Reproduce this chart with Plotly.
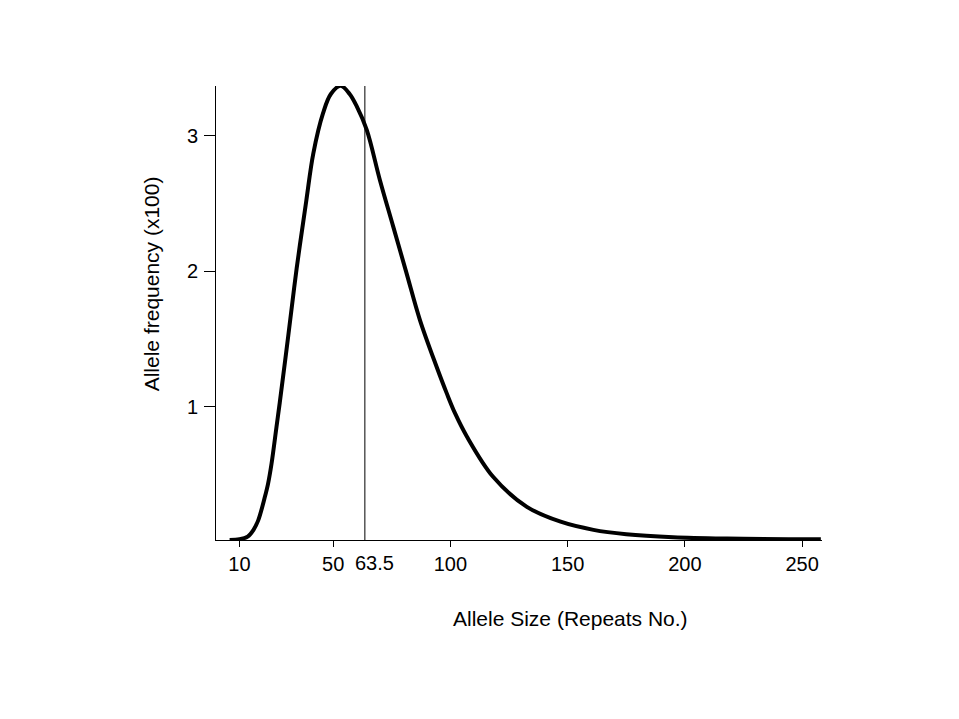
import plotly.graph_objects as go

# Data
allele_size = [5.8, 10, 13.5, 16, 18, 20.8, 22.2, 23.7, 25.8, 27.2, 30.8, 34.4, 38.5,
               41.5, 45.7, 49, 53.2, 57, 60, 64.3, 69.9, 75.6, 81.3, 87, 94.1, 98.4,
               102, 107, 118.3, 132.6, 147, 161, 175, 195, 218, 258]
allele_freq = [0.015, 0.02, 0.04, 0.09, 0.16, 0.33, 0.43, 0.58, 0.85, 1.03, 1.52, 2.02,
               2.52, 2.87, 3.17, 3.31, 3.37, 3.31, 3.22, 3.045, 2.675, 2.33, 1.985, 1.64,
               1.295, 1.1, 0.95, 0.78, 0.48, 0.26, 0.15, 0.09, 0.058, 0.036, 0.026, 0.02]
x_ticks = [10, 50, 100, 150, 200, 250]
y_ticks = [1, 2, 3]
marker_size = 63.5
marker_label = "63.5"

FONT = "Liberation Sans, Arial, sans-serif"
TICK_FS = 20
TITLE_FS = 21

fig = go.Figure()
fig.add_trace(go.Scatter(
    x=allele_size, y=allele_freq, mode="lines",
    line=dict(color="black", width=4, shape="spline", smoothing=1.0),
    showlegend=False, hoverinfo="skip"))

fig.add_shape(type="line", xref="x", yref="paper", x0=marker_size, x1=marker_size,
              y0=0, y1=1, line=dict(color="black", width=1))

fig.update_layout(
    width=959, height=719,
    margin=dict(l=208, r=145, t=78, b=187),
    paper_bgcolor="white", plot_bgcolor="white",
    font=dict(family=FONT, size=TICK_FS, color="black"),
    xaxis=dict(range=[0, 258.5], tickvals=x_ticks, ticktext=[str(v) for v in x_ticks],
               showline=True, linecolor="black", linewidth=1, ticks="outside",
               ticklen=6, tickcolor="black", showgrid=False, zeroline=False,
               ticklabelstandoff=0, tickfont=dict(family=FONT, size=TICK_FS)),
    yaxis=dict(range=[0.015, 3.369], tickvals=y_ticks, ticktext=[str(v) for v in y_ticks],
               showline=True, linecolor="black", linewidth=1, ticks="outside",
               ticklen=11, tickcolor="black", showgrid=False, zeroline=False,
               ticklabelstandoff=2, tickfont=dict(family=FONT, size=TICK_FS)),
    annotations=[
        dict(text=marker_label, xref="x", yref="paper", x=marker_size, xshift=10,
             y=-0.0507, xanchor="center", yanchor="middle", showarrow=False,
             font=dict(family=FONT, size=TICK_FS)),
        dict(text="Allele Size (Repeats No.)", xref="paper", yref="paper",
             x=0.5855, y=-0.174, xanchor="center", yanchor="middle", showarrow=False,
             font=dict(family=FONT, size=TITLE_FS)),
        dict(text="Allele frequency (x100)", xref="paper", yref="paper",
             x=-0.105, y=0.564, xanchor="center", yanchor="middle", showarrow=False,
             textangle=-90, font=dict(family=FONT, size=TITLE_FS)),
    ],
)

fig.write_html("out.html")
